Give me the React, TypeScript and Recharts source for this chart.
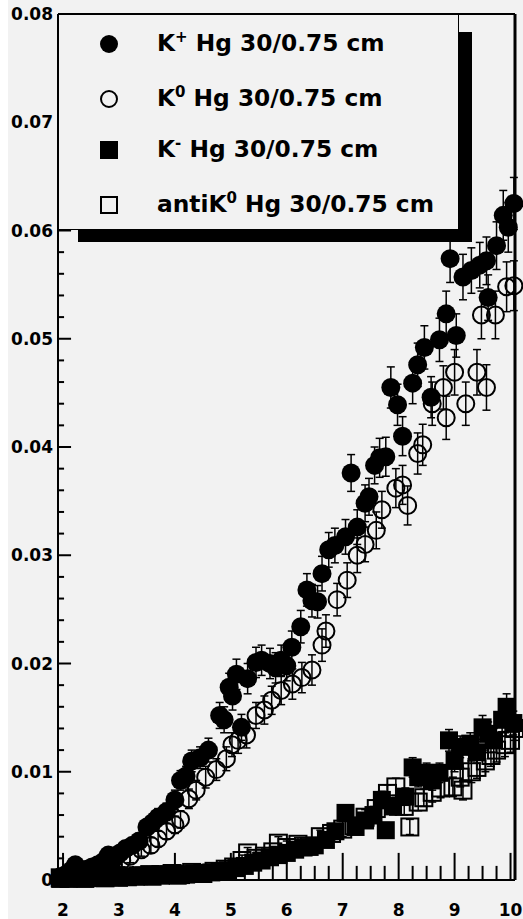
import { ScatterChart, Scatter, XAxis, YAxis, ErrorBar, Legend, ReferenceLine } from "recharts";

// [momentum, yield, error]
const kPlus: [number, number, number][] = [
  [1.95, 0.0003, 0.0003], [2.05, 0.0005, 0.0004], [2.15, 0.0009, 0.0005], [2.22, 0.0014, 0.0005],
  [2.32, 0.0007, 0.0005], [2.42, 0.001, 0.0005], [2.52, 0.0012, 0.0005], [2.62, 0.0014, 0.0006],
  [2.72, 0.0017, 0.0006], [2.81, 0.0023, 0.0006], [2.92, 0.002, 0.0006], [3.02, 0.0025, 0.0006],
  [3.12, 0.0029, 0.0007], [3.24, 0.0032, 0.0007], [3.36, 0.0036, 0.0007], [3.5, 0.0049, 0.0007],
  [3.6, 0.0053, 0.0008], [3.7, 0.0058, 0.0008], [3.85, 0.0063, 0.0008], [4.0, 0.0074, 0.0009],
  [4.1, 0.0092, 0.0009], [4.2, 0.0096, 0.0009], [4.3, 0.011, 0.001], [4.45, 0.0113, 0.001],
  [4.6, 0.012, 0.0011], [4.8, 0.0152, 0.0012], [4.88, 0.0148, 0.0012], [4.97, 0.0178, 0.0013],
  [5.03, 0.017, 0.0013], [5.1, 0.019, 0.0014], [5.19, 0.0141, 0.0012], [5.3, 0.0186, 0.0014],
  [5.45, 0.0201, 0.0014], [5.55, 0.0203, 0.0014], [5.7, 0.02, 0.0014], [5.8, 0.0196, 0.0014],
  [5.9, 0.0203, 0.0014], [6.0, 0.0198, 0.0014], [6.09, 0.0215, 0.0015], [6.25, 0.0234, 0.0015],
  [6.36, 0.0268, 0.0015], [6.45, 0.0258, 0.0015], [6.55, 0.0257, 0.0015], [6.63, 0.0283, 0.0016],
  [6.75, 0.0305, 0.0016], [6.86, 0.0309, 0.0016], [7.05, 0.0317, 0.0016], [7.15, 0.0376, 0.0017],
  [7.26, 0.0326, 0.0016], [7.4, 0.0348, 0.0017], [7.47, 0.0354, 0.0017], [7.57, 0.0383, 0.0017],
  [7.66, 0.039, 0.0018], [7.77, 0.0391, 0.0018], [7.86, 0.0455, 0.0019], [7.98, 0.0439, 0.0019],
  [8.07, 0.041, 0.0018], [8.25, 0.0459, 0.0019], [8.34, 0.0476, 0.002], [8.46, 0.0492, 0.002],
  [8.58, 0.0446, 0.0019], [8.73, 0.0499, 0.002], [8.85, 0.0523, 0.0021], [8.92, 0.0574, 0.0022],
  [9.03, 0.0503, 0.002], [9.15, 0.0557, 0.0021], [9.3, 0.0563, 0.0021], [9.45, 0.0568, 0.0021],
  [9.57, 0.0572, 0.0022], [9.6, 0.0538, 0.0021], [9.75, 0.0586, 0.0022], [9.87, 0.0614, 0.0023],
  [9.96, 0.0603, 0.0023], [10.06, 0.0625, 0.0024],
];

const kZero: [number, number, number][] = [
  [1.98, 0.0002, 0.0002], [2.1, 0.0003, 0.0003], [2.2, 0.0005, 0.0004], [2.32, 0.0004, 0.0004],
  [2.45, 0.0007, 0.0005], [2.6, 0.0008, 0.0005], [2.75, 0.0012, 0.0005], [2.9, 0.0014, 0.0005],
  [3.05, 0.0018, 0.0006], [3.2, 0.0022, 0.0006], [3.4, 0.0028, 0.0006], [3.57, 0.0032, 0.0007],
  [3.7, 0.0038, 0.0007], [3.85, 0.0045, 0.0007], [4.0, 0.0051, 0.0008], [4.1, 0.0056, 0.0008],
  [4.25, 0.0075, 0.0009], [4.38, 0.0083, 0.0009], [4.55, 0.0095, 0.001], [4.74, 0.0102, 0.001],
  [4.92, 0.0112, 0.0011], [5.02, 0.0125, 0.0011], [5.13, 0.0129, 0.0012], [5.28, 0.0134, 0.0012],
  [5.45, 0.0152, 0.0012], [5.6, 0.0157, 0.0013], [5.73, 0.0166, 0.0013], [5.9, 0.0175, 0.0013],
  [6.1, 0.0181, 0.0014], [6.27, 0.0187, 0.0014], [6.45, 0.0194, 0.0014], [6.63, 0.0217, 0.0015],
  [6.7, 0.023, 0.0015], [6.9, 0.0259, 0.0015], [7.08, 0.0277, 0.0016], [7.26, 0.03, 0.0016],
  [7.4, 0.031, 0.0016], [7.6, 0.0323, 0.0017], [7.7, 0.0342, 0.0017], [7.95, 0.0362, 0.0018],
  [8.07, 0.0365, 0.0018], [8.16, 0.0346, 0.0018], [8.34, 0.0394, 0.0019], [8.43, 0.0402, 0.0019],
  [8.6, 0.044, 0.002], [8.8, 0.0455, 0.002], [8.85, 0.0427, 0.002], [9.0, 0.0469, 0.0021],
  [9.2, 0.044, 0.002], [9.4, 0.0469, 0.0021], [9.48, 0.0522, 0.0022], [9.57, 0.0455, 0.0021],
  [9.73, 0.0522, 0.0022], [9.93, 0.0548, 0.0023], [10.06, 0.0549, 0.0023],
];

const kMinus: [number, number, number][] = [
  [1.95, 0.0001, 0.0001], [2.1, 0.0001, 0.0001], [2.25, 0.0002, 0.0002], [2.4, 0.0001, 0.0001],
  [2.55, 0.0002, 0.0002], [2.7, 0.0002, 0.0002], [2.85, 0.0003, 0.0002], [3.0, 0.0002, 0.0002],
  [3.15, 0.0003, 0.0002], [3.3, 0.0003, 0.0002], [3.45, 0.0004, 0.0003], [3.6, 0.0003, 0.0003],
  [3.75, 0.0004, 0.0003], [3.9, 0.0005, 0.0003], [4.05, 0.0004, 0.0003], [4.2, 0.0005, 0.0003],
  [4.35, 0.0006, 0.0003], [4.5, 0.0006, 0.0003], [4.65, 0.0007, 0.0003], [4.8, 0.0008, 0.0004],
  [4.95, 0.0009, 0.0004], [5.1, 0.0011, 0.0004], [5.25, 0.0013, 0.0004], [5.4, 0.0016, 0.0004],
  [5.55, 0.0018, 0.0005], [5.7, 0.0021, 0.0005], [5.85, 0.0023, 0.0005], [6.0, 0.0025, 0.0005],
  [6.15, 0.0028, 0.0005], [6.3, 0.003, 0.0006], [6.5, 0.0032, 0.0006], [6.7, 0.0037, 0.0006],
  [6.87, 0.0045, 0.0007], [7.05, 0.0062, 0.0007], [7.23, 0.0049, 0.0007], [7.4, 0.0055, 0.0007],
  [7.55, 0.006, 0.0008], [7.7, 0.0074, 0.0008], [7.77, 0.0046, 0.0007], [7.9, 0.0068, 0.0008],
  [8.12, 0.0077, 0.0008], [8.25, 0.0104, 0.0009], [8.35, 0.0095, 0.0009], [8.5, 0.0099, 0.0009],
  [8.6, 0.0092, 0.0009], [8.73, 0.0099, 0.0009], [8.9, 0.0129, 0.001], [9.0, 0.011, 0.001],
  [9.1, 0.0123, 0.001], [9.28, 0.0126, 0.001], [9.4, 0.0118, 0.001], [9.5, 0.0141, 0.0011],
  [9.6, 0.0135, 0.0011], [9.7, 0.0129, 0.0011], [9.85, 0.0148, 0.0011], [9.93, 0.016, 0.0012],
  [10.05, 0.0145, 0.0011],
];

const antiKZero: [number, number, number][] = [
  [1.95, 0.0002, 0.0002], [2.15, 0.0003, 0.0002], [2.35, 0.0002, 0.0002], [2.55, 0.0003, 0.0002],
  [2.75, 0.0002, 0.0002], [2.95, 0.0004, 0.0002], [3.15, 0.0003, 0.0002], [3.35, 0.0004, 0.0003],
  [3.55, 0.0005, 0.0003], [3.75, 0.0005, 0.0003], [3.95, 0.0006, 0.0003], [4.1, 0.0005, 0.0003],
  [4.3, 0.0007, 0.0003], [4.5, 0.0006, 0.0003], [4.7, 0.0008, 0.0004], [4.9, 0.001, 0.0004],
  [5.05, 0.0012, 0.0004], [5.2, 0.0018, 0.0005], [5.3, 0.0025, 0.0005], [5.45, 0.002, 0.0005],
  [5.6, 0.0022, 0.0005], [5.75, 0.0026, 0.0005], [5.85, 0.0034, 0.0006], [6.0, 0.003, 0.0006],
  [6.2, 0.0033, 0.0006], [6.4, 0.0031, 0.0006], [6.6, 0.004, 0.0006], [6.8, 0.0043, 0.0007],
  [7.0, 0.0047, 0.0007], [7.2, 0.005, 0.0007], [7.4, 0.0058, 0.0007], [7.6, 0.0066, 0.0008],
  [7.8, 0.008, 0.0008], [7.95, 0.0086, 0.0008], [8.1, 0.0068, 0.0008], [8.2, 0.0049, 0.0007],
  [8.35, 0.0072, 0.0008], [8.45, 0.0076, 0.0008], [8.6, 0.0081, 0.0009], [8.75, 0.0085, 0.0009],
  [8.97, 0.0086, 0.0009], [9.1, 0.0095, 0.0009], [9.15, 0.0083, 0.0009], [9.3, 0.01, 0.001],
  [9.4, 0.0104, 0.001], [9.55, 0.011, 0.001], [9.65, 0.0115, 0.001], [9.75, 0.012, 0.0011],
  [9.9, 0.0125, 0.0011], [10.0, 0.0129, 0.0011], [10.07, 0.014, 0.0011],
];

const xMajorTicks = [2, 3, 4, 5, 6, 7, 8, 9, 10];
const yMajorTicks = [0, 0.01, 0.02, 0.03, 0.04, 0.05, 0.06, 0.07, 0.08];

const legendItems = [
  { base: "K", sup: "+", rest: " Hg 30/0.75 cm", marker: "filledCircle" },
  { base: "K", sup: "0", rest: " Hg 30/0.75 cm", marker: "openCircle" },
  { base: "K", sup: "-", rest: " Hg 30/0.75 cm", marker: "filledSquare" },
  { base: "antiK", sup: "0", rest: " Hg 30/0.75 cm", marker: "openSquare" },
];

const FONT = "'DejaVu Sans', sans-serif";
const BG = "#f2f2f2";
const X_MIN = 1.91;
const X_MAX = 10.08;
const Y_MAX = 0.08;

const toRows = (pts: [number, number, number][]) =>
  pts.map(([x, y, err]) => ({ x, y, err }));

const xMinorTicks = xMajorTicks.slice(0, -1).flatMap((m) => [m + 0.25, m + 0.5, m + 0.75]);
const yMinorTicks = yMajorTicks.slice(0, -1).flatMap((m) => [1, 2, 3, 4].map((k) => +(m + k * 0.002).toFixed(3)));

// tick marks drawn as scatter glyphs just inside the axes, pointing inward
const xTickRows = [
  ...xMajorTicks.map((x) => ({ x, y: 0.00001, len: 27 })),
  ...xMinorTicks.map((x) => ({ x, y: 0.00001, len: 14 })),
];
const yTickRows = [
  ...yMajorTicks.slice(1).map((y) => ({ x: X_MIN + 0.001, y, len: 13 })),
  ...yMinorTicks.map((y) => ({ x: X_MIN + 0.001, y, len: 6 })),
];

const xTickShape = (p: any) => (
  <path d={`M${p.cx},${p.cy}v${-p.payload.len}`} stroke="#000" strokeWidth={2} fill="none" />
);
const yTickShape = (p: any) => (
  <path d={`M${p.cx},${p.cy}h${p.payload.len}`} stroke="#000" strokeWidth={2} fill="none" />
);

const XTick = ({ x, y, payload }: any) => (
  <text x={x} y={y + 36} textAnchor="middle" fontFamily={FONT} fontWeight="bold" fontSize={17} fill="#000">
    {payload.value}
  </text>
);

const YTick = ({ x, y, payload }: any) => (
  <text x={x - 5} y={y + 6} textAnchor="end" fontFamily={FONT} fontWeight="bold" fontSize={17} fill="#000">
    {payload.value === 0 ? "0" : payload.value.toFixed(2)}
  </text>
);

const filledCircle = (p: any) => <circle cx={p.cx} cy={p.cy} r={9.5} fill="#000" />;
const openCircle = (p: any) => <circle cx={p.cx} cy={p.cy} r={8.5} fill="none" stroke="#000" strokeWidth={2} />;
const filledSquare = (p: any) => <rect x={p.cx - 9} y={p.cy - 9} width={18} height={18} fill="#000" />;
const openSquare = (p: any) => (
  <rect x={p.cx - 8.5} y={p.cy - 8.5} width={17} height={17} fill="none" stroke="#000" strokeWidth={2} />
);

const LegendMarker = ({ type }: { type: string }) => (
  <svg width={22} height={22}>
    {type === "filledCircle" && <circle cx={11} cy={11} r={9} fill="#000" />}
    {type === "openCircle" && <circle cx={11} cy={11} r={8} fill="none" stroke="#000" strokeWidth={2} />}
    {type === "filledSquare" && <rect x={2} y={2} width={18} height={18} fill="#000" />}
    {type === "openSquare" && <rect x={3} y={3} width={16} height={16} fill="none" stroke="#000" strokeWidth={2} />}
  </svg>
);

const rowCenters = [29, 84, 135, 190];

const LegendBox = () => (
  <div style={{ position: "relative", width: 401, height: 216 }}>
    <div style={{ position: "absolute", left: 20, top: 18, width: 394, height: 210, background: "#000" }} />
    <div
      style={{
        position: "absolute",
        left: 0,
        top: 0,
        width: 399,
        height: 214,
        background: BG,
        border: "1px solid #000",
      }}
    >
      {legendItems.map((item, i) => (
        <div
          key={i}
          style={{
            position: "absolute",
            left: 39,
            top: rowCenters[i] - 15,
            height: 30,
            display: "flex",
            alignItems: "center",
            fontFamily: FONT,
            fontWeight: "bold",
            fontSize: 23.3,
            color: "#000",
            whiteSpace: "nowrap",
          }}
        >
          <LegendMarker type={item.marker} />
          <span style={{ marginLeft: 37, lineHeight: "30px" }}>
            {item.base}
            <span style={{ fontSize: 15, position: "relative", top: -9 }}>{item.sup}</span>
            {item.rest}
          </span>
        </div>
      ))}
    </div>
  </div>
);

export default function App() {
  return (
    <div style={{ position: "absolute", left: 8, top: 0, width: 515, height: 919, background: BG }}>
      <ScatterChart width={515} height={919} margin={{ top: 14, right: 8, bottom: 0, left: 0 }}>
        <XAxis
          dataKey="x"
          type="number"
          domain={[X_MIN, X_MAX]}
          ticks={xMajorTicks}
          interval={0}
          height={39}
          tickSize={0}
          tickMargin={0}
          tickLine={false}
          tick={<XTick />}
          axisLine={{ stroke: "#000", strokeWidth: 2 }}
        />
        <YAxis
          dataKey="y"
          type="number"
          domain={[0, Y_MAX]}
          ticks={yMajorTicks}
          interval={0}
          width={50}
          tickSize={0}
          tickMargin={0}
          tickLine={false}
          tick={<YTick />}
          axisLine={{ stroke: "#000", strokeWidth: 2 }}
        />
        <ReferenceLine y={Y_MAX - 0.00001} stroke="#000" strokeWidth={2} ifOverflow="visible" />
        <ReferenceLine x={X_MAX} stroke="#000" strokeWidth={3} ifOverflow="visible" />
        <Legend
          layout="horizontal"
          align="center"
          verticalAlign="middle"
          wrapperStyle={{ left: 50, top: 14, width: 401, height: 216 }}
          content={() => <LegendBox />}
        />
        <Scatter data={xTickRows} shape={xTickShape} legendType="none" isAnimationActive={false} />
        <Scatter data={yTickRows} shape={yTickShape} legendType="none" isAnimationActive={false} />
        <Scatter name="K+ Hg 30/0.75 cm" data={toRows(kPlus)} shape={filledCircle} isAnimationActive={false}>
          <ErrorBar dataKey="err" direction="y" width={4} stroke="#000" strokeWidth={1.5} />
        </Scatter>
        <Scatter name="K0 Hg 30/0.75 cm" data={toRows(kZero)} shape={openCircle} isAnimationActive={false}>
          <ErrorBar dataKey="err" direction="y" width={4} stroke="#000" strokeWidth={1.5} />
        </Scatter>
        <Scatter name="K- Hg 30/0.75 cm" data={toRows(kMinus)} shape={filledSquare} isAnimationActive={false}>
          <ErrorBar dataKey="err" direction="y" width={4} stroke="#000" strokeWidth={1.5} />
        </Scatter>
        <Scatter name="antiK0 Hg 30/0.75 cm" data={toRows(antiKZero)} shape={openSquare} isAnimationActive={false}>
          <ErrorBar dataKey="err" direction="y" width={4} stroke="#000" strokeWidth={1.5} />
        </Scatter>
      </ScatterChart>
    </div>
  );
}
